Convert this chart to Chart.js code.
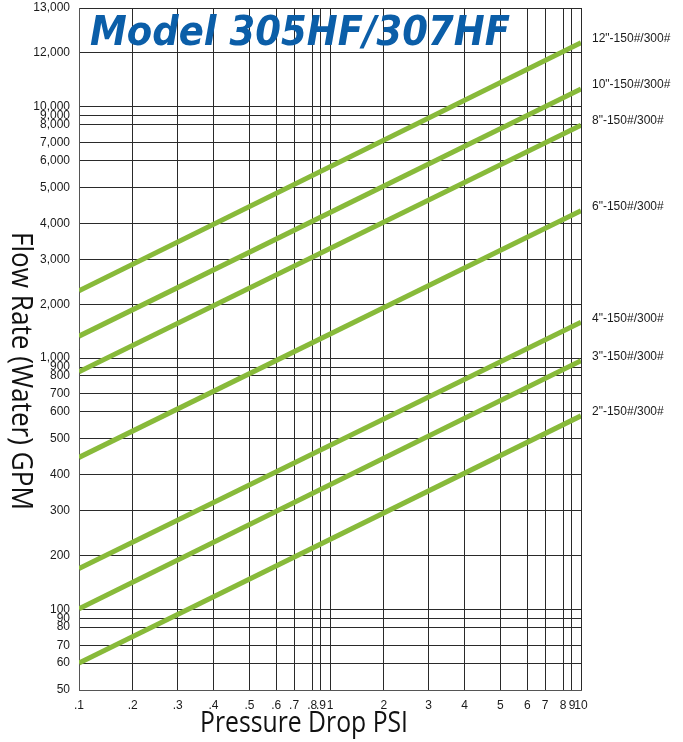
<!DOCTYPE html>
<html>
<head>
<meta charset="utf-8">
<title>Model 305HF/307HF</title>
<script src="https://cdn.jsdelivr.net/npm/chart.js@4.4.1/dist/chart.umd.min.js"></script>
<style>
  html, body { margin: 0; padding: 0; background: #ffffff; }
  #wrap { width: 683px; height: 742px; }
</style>
</head>
<body>
<div id="wrap"><canvas id="c" width="683" height="742"></canvas></div>
<script>
// ---------------- data ----------------
const pressureDropPsi = [0.1, 10];            // x of each line's two ends
const flow12in = [2300, 12230];
const flow10in = [1407, 10660];
const flow8in  = [848, 7970];
const flow6in  = [448, 4350];
const flow4in  = [176, 1665];
const flow3in  = [101, 970];
const flow2in  = [60, 585];

const seriesNames = ['12"-150#/300#', '10"-150#/300#', '8"-150#/300#', '6"-150#/300#',
                     '4"-150#/300#', '3"-150#/300#', '2"-150#/300#'];
const seriesFlows = [flow12in, flow10in, flow8in, flow6in, flow4in, flow3in, flow2in];

const xTickValues = [0.1, 0.2, 0.3, 0.4, 0.5, 0.6, 0.7, 0.8, 0.9, 1, 2, 3, 4, 5, 6, 7, 8, 9, 10];
const xTickLabels = ['.1', '.2', '.3', '.4', '.5', '.6', '.7', '.8', '.9', '1',
                     '2', '3', '4', '5', '6', '7', '8', '9', '10'];
const yTickValues = [50, 60, 70, 80, 90, 100, 200, 300, 400, 500, 600, 700, 800, 900, 1000,
                     2000, 3000, 4000, 5000, 6000, 7000, 8000, 9000, 10000, 12000, 13000];
const yTickLabels = ['50', '60', '70', '80', '90', '100', '200', '300', '400', '500', '600', '700',
                     '800', '900', '1,000', '2,000', '3,000', '4,000', '5,000', '6,000', '7,000',
                     '8,000', '9,000', '10,000', '12,000', '13,000'];

const chartTitle = 'Model 305HF/307HF';
const xTitle = 'Pressure Drop PSI';
const yTitle = 'Flow Rate (Water) GPM';

// ---------------- printed-grid log scale ----------------
// The printed chart's grid is not a true log grid: inside every decade the 1..10 lines
// sit at these fractions of the decade, and the two lines above 10,000 are drawn
// where 20,000 and 30,000 would fall.
const DECADE_STEPS = [0, 0.214, 0.393, 0.536, 0.679, 0.786, 0.857, 0.929, 0.964, 1];
const Y_GRID_ALIAS = { 12000: 20000, 13000: 30000 };

function printedPos(v) {
  const e = Math.floor(Math.log10(v) + 1e-9);
  const m = v / Math.pow(10, e);
  const i = Math.max(0, Math.min(8, Math.floor(m + 1e-9) - 1));
  return e + DECADE_STEPS[i] + (m - (i + 1)) * (DECADE_STEPS[i + 1] - DECADE_STEPS[i]);
}
const AXIS_KNOTS = {
  x: xTickValues.map(v => [v, printedPos(v)]),
  y: yTickValues.map(v => [v, printedPos(Y_GRID_ALIAS[v] || v)])
};

const LogBase = Chart.LogarithmicScale || Chart.registry.getScale('logarithmic');
class PrintedLogScale extends LogBase {
  static id = 'printedlog';
  _warp(v) {
    const k = AXIS_KNOTS[this.id];
    if (v <= k[0][0]) return k[0][1] + Math.log10(v / k[0][0]);
    for (let i = 1; i < k.length; i++) {
      if (v <= k[i][0]) {
        const t = (v - k[i - 1][0]) / (k[i][0] - k[i - 1][0]);
        return k[i - 1][1] + t * (k[i][1] - k[i - 1][1]);
      }
    }
    const last = k[k.length - 1];
    return last[1] + Math.log10(v / last[0]);
  }
  _unwarp(p) {
    const k = AXIS_KNOTS[this.id];
    if (p <= k[0][1]) return k[0][0] * Math.pow(10, p - k[0][1]);
    for (let i = 1; i < k.length; i++) {
      if (p <= k[i][1]) {
        const t = (p - k[i - 1][1]) / (k[i][1] - k[i - 1][1]);
        return k[i - 1][0] + t * (k[i][0] - k[i - 1][0]);
      }
    }
    const last = k[k.length - 1];
    return last[0] * Math.pow(10, p - last[1]);
  }
  getPixelForValue(value) {
    if (value === undefined || value === 0) value = this.min;
    if (value === null || isNaN(value)) return NaN;
    const w0 = this._warp(this.min), w1 = this._warp(this.max);
    return this.getPixelForDecimal((this._warp(value) - w0) / (w1 - w0));
  }
  getValueForPixel(pixel) {
    const w0 = this._warp(this.min), w1 = this._warp(this.max);
    return this._unwarp(w0 + this.getDecimalForPixel(pixel) * (w1 - w0));
  }
}
Chart.register(PrintedLogScale);

// ---------------- text plugins ----------------
function drawFitted(ctx, text, x, y, angle, font, width, align) {
  ctx.save();
  ctx.font = font;
  const w = ctx.measureText(text).width;
  ctx.translate(x, y);
  ctx.rotate(angle);
  ctx.scale(width / w, 1);
  ctx.textAlign = align;
  ctx.textBaseline = 'alphabetic';
  ctx.fillText(text, 0, 0);
  ctx.restore();
}

const decorations = {
  id: 'decorations',
  afterDatasetsDraw(chart) {
    const ctx = chart.ctx;
    const area = chart.chartArea;
    // line labels at the right end of each line
    ctx.save();
    ctx.font = '12px "Liberation Sans", Arial, sans-serif';
    ctx.fillStyle = '#1a1a1a';
    ctx.textAlign = 'left';
    ctx.textBaseline = 'middle';
    chart.data.datasets.forEach((ds, i) => {
      const pts = chart.getDatasetMeta(i).data;
      const end = pts[pts.length - 1];
      ctx.fillText(ds.label, area.right + 11, end.y - 4);
    });
    ctx.restore();

    // chart title inside the plot
    ctx.save();
    ctx.fillStyle = '#0b5ea8';
    drawFitted(ctx, chartTitle, area.left + 11, area.top + 37, 0,
      'italic bold 41px "DejaVu Sans", Verdana, sans-serif', 420, 'left');
    ctx.restore();

    // axis titles
    ctx.save();
    ctx.fillStyle = '#111';
    drawFitted(ctx, xTitle, 304, 731.5, 0, '29px "Open Sans", "Noto Sans", sans-serif', 208, 'center');
    drawFitted(ctx, yTitle, 12, 371, Math.PI / 2, '29px "Open Sans", "Noto Sans", sans-serif', 278, 'center');
    ctx.restore();
  }
};

// ---------------- chart ----------------
const lineGreen = '#88ba3a';
const tickFont = { family: '"Liberation Sans", Arial, sans-serif', size: 12 };

new Chart(document.getElementById('c'), {
  type: 'line',
  data: {
    datasets: seriesNames.map((name, i) => ({
      label: name,
      data: pressureDropPsi.map((p, j) => ({ x: p, y: seriesFlows[i][j] })),
      borderColor: lineGreen,
      backgroundColor: lineGreen,
      borderWidth: 5,
      pointRadius: 0,
      fill: false,
      tension: 0
    }))
  },
  options: {
    responsive: false,
    animation: false,
    events: [],
    layout: { padding: { left: 0, top: 8, right: 102, bottom: 0 } },
    plugins: {
      legend: { display: false },
      tooltip: { enabled: false },
      title: { display: false }
    },
    scales: {
      x: {
        type: 'printedlog',
        min: 0.1,
        max: 10,
        bounds: 'data',
        afterBuildTicks: s => { s.ticks = xTickValues.map(v => ({ value: v })); },
        afterFit: s => { s.height = 52; s.paddingLeft = 0; s.paddingRight = 0; },
        grid: { color: '#2a2a2a', lineWidth: 1, drawTicks: false },
        border: { display: true, color: '#555', width: 1 },
        ticks: {
          autoSkip: false, maxRotation: 0, minRotation: 0, padding: 8,
          color: '#1a1a1a', font: tickFont,
          callback: (v, i) => xTickLabels[i]
        }
      },
      y: {
        type: 'printedlog',
        min: 50,
        max: 13000,
        bounds: 'data',
        afterBuildTicks: s => { s.ticks = yTickValues.map(v => ({ value: v })); },
        afterFit: s => { s.width = 79; s.paddingTop = 0; s.paddingBottom = 0; },
        grid: { color: '#2a2a2a', lineWidth: 1, drawTicks: false },
        border: { display: true, color: '#555', width: 1 },
        ticks: {
          autoSkip: false, padding: 9,
          color: '#1a1a1a', font: tickFont,
          callback: (v, i) => yTickLabels[i]
        }
      }
    }
  },
  plugins: [decorations]
});
</script>
</body>
</html>
